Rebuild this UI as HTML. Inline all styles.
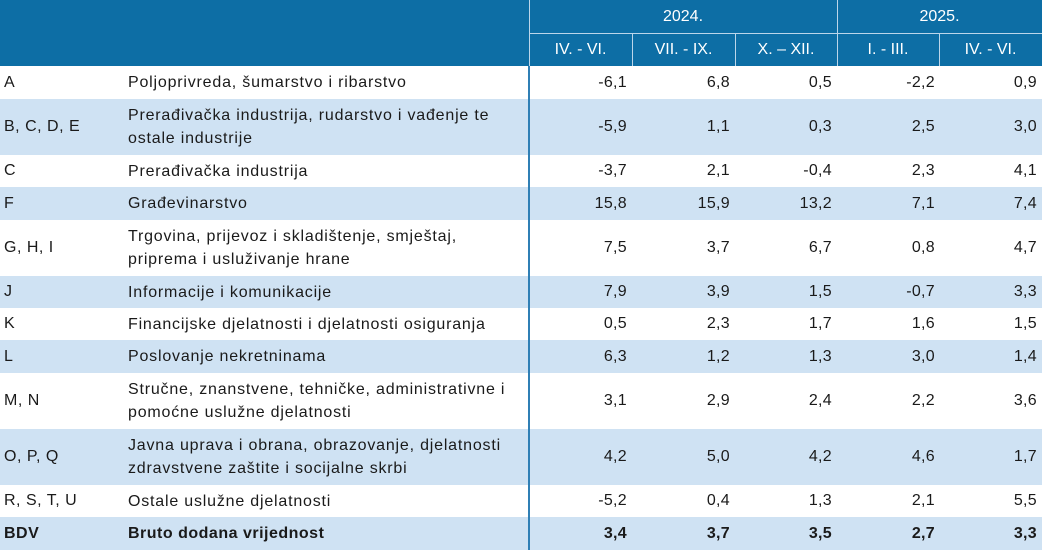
<!DOCTYPE html>
<html><head><meta charset="utf-8"><style>
body{margin:0;width:1042px;height:550px;overflow:hidden;background:#fff;font-family:"Liberation Sans",sans-serif;font-size:16px;color:#1a1a1a}
.a{position:absolute;box-sizing:border-box}
.h{background:#0d6ea5;color:#fff}
.row{position:absolute;left:0;width:1042px;display:flex;align-items:center}
.code{position:absolute;left:4px;letter-spacing:0.5px}
.desc{position:absolute;left:128px;width:382px;line-height:23px;letter-spacing:0.8px}
.n{position:absolute;text-align:right;width:90px;letter-spacing:0.3px}
.b{background:#cfe2f3}
.bold{font-weight:bold}
.bold .desc{letter-spacing:0.5px}
</style></head><body>
<div class="a h" style="left:0;top:0;width:1042px;height:66px"></div>
<div class="a" style="left:529px;top:0;width:1px;height:66px;background:#bcd6ea"></div>
<div class="a" style="left:837px;top:0;width:1px;height:66px;background:#bcd6ea"></div>
<div class="a" style="left:529px;top:33px;width:513px;height:1px;background:#bcd6ea"></div>
<div class="a" style="left:632px;top:33px;width:1px;height:33px;background:#bcd6ea"></div>
<div class="a" style="left:735px;top:33px;width:1px;height:33px;background:#bcd6ea"></div>
<div class="a" style="left:939px;top:33px;width:1px;height:33px;background:#bcd6ea"></div>
<div class="a" style="left:529px;top:0;width:308px;height:33px;color:#fff;text-align:center;line-height:33px">2024.</div>
<div class="a" style="left:837px;top:0;width:205px;height:33px;color:#fff;text-align:center;line-height:33px">2025.</div>
<div class="a" style="left:529px;top:33px;width:103px;line-height:33px;color:#fff;text-align:center">IV. - VI.</div>
<div class="a" style="left:632px;top:33px;width:103px;line-height:33px;color:#fff;text-align:center">VII. - IX.</div>
<div class="a" style="left:735px;top:33px;width:102px;line-height:33px;color:#fff;text-align:center">X. – XII.</div>
<div class="a" style="left:837px;top:33px;width:102px;line-height:33px;color:#fff;text-align:center">I. - III.</div>
<div class="a" style="left:939px;top:33px;width:103px;line-height:33px;color:#fff;text-align:center">IV. - VI.</div>

<div id="rows"></div>
<script>
var d=[
["A","Poljoprivreda, šumarstvo i ribarstvo",["-6,1","6,8","0,5","-2,2","0,9"],66,33],
["B, C, D, E","Prerađivačka industrija, rudarstvo i vađenje te ostale industrije",["-5,9","1,1","0,3","2,5","3,0"],99,56],
["C","Prerađivačka industrija",["-3,7","2,1","-0,4","2,3","4,1"],155,32],
["F","Građevinarstvo",["15,8","15,9","13,2","7,1","7,4"],187,33],
["G, H, I","Trgovina, prijevoz i skladištenje, smještaj, priprema i usluživanje hrane",["7,5","3,7","6,7","0,8","4,7"],220,56],
["J","Informacije i komunikacije",["7,9","3,9","1,5","-0,7","3,3"],276,32],
["K","Financijske djelatnosti i djelatnosti osiguranja",["0,5","2,3","1,7","1,6","1,5"],308,32],
["L","Poslovanje nekretninama",["6,3","1,2","1,3","3,0","1,4"],340,33],
["M, N","Stručne, znanstvene, tehničke, administrativne i pomoćne uslužne djelatnosti",["3,1","2,9","2,4","2,2","3,6"],373,56],
["O, P, Q","Javna uprava i obrana, obrazovanje, djelatnosti zdravstvene zaštite i socijalne skrbi",["4,2","5,0","4,2","4,6","1,7"],429,56],
["R, S, T, U","Ostale uslužne djelatnosti",["-5,2","0,4","1,3","2,1","5,5"],485,32],
["BDV","Bruto dodana vrijednost",["3,4","3,7","3,5","2,7","3,3"],517,33]];
var R=[627,730,832,935,1037],h="";
d.forEach(function(r,i){
 var cls="row"+(i%2?" b":"")+(i==11?" bold":"");
 h+='<div class="'+cls+'" style="top:'+r[3]+'px;height:'+r[4]+'px">';
 h+='<span class="code">'+r[0]+'</span><span class="desc">'+r[1]+'</span>';
 r[2].forEach(function(v,j){h+='<span class="n" style="left:'+(R[j]-90)+'px">'+v+'</span>';});
 h+='</div>';});
h+='<div class="a" style="left:528px;top:66px;width:2px;height:484px;background:#2f7fb5"></div>';
document.getElementById("rows").innerHTML=h;
</script>
</body></html>
